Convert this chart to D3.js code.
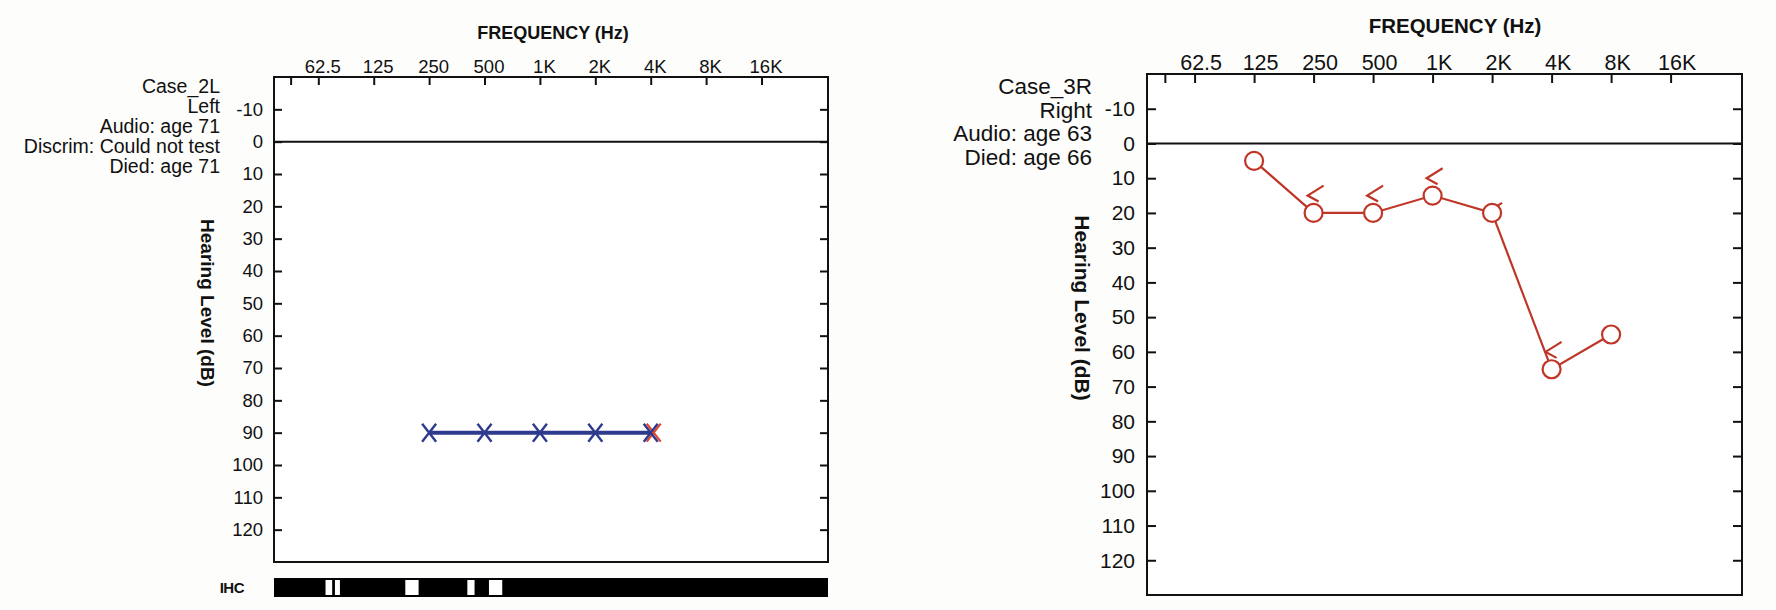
<!DOCTYPE html>
<html>
<head>
<meta charset="utf-8">
<script src="https://cdn.jsdelivr.net/npm/d3@7"></script>
<style>
body { margin: 0; background: #fdfdfb; }
text { font-family: "Liberation Sans", Arial, sans-serif; fill: #111; }
</style>
</head>
<body>
<script>
// axis values
var freqTicks = [44.2, 62.5, 125, 250, 500, 1000, 2000, 4000, 8000, 16000];
var freqLabels = ["", "62.5", "125", "250", "500", "1K", "2K", "4K", "8K", "16K"];
var freqDomain = [35.9, 36758];
var dbTicks = [-10, 0, 10, 20, 30, 40, 50, 60, 70, 80, 90, 100, 110, 120];
var dbDomain = [-20, 130];

// case 2L (left ear)
var leftInfo = ["Case_2L", "Left", "Audio: age 71", "Discrim: Could not test", "Died: age 71"];
var leftAirFreq = [250, 500, 1000, 2000, 4000];
var leftAirDb = [90, 90, 90, 90, 90];
var leftRedFreq = [4000];
var leftRedDb = [90];
// IHC bar: white gaps, in % of bar length
var ihcGapStart = [9.3, 11.0, 23.7, 34.9, 38.8];
var ihcGapEnd = [10.5, 11.9, 26.1, 36.2, 41.2];

// case 3R (right ear)
var rightInfo = ["Case_3R", "Right", "Audio: age 63", "Died: age 66"];
var rightAirFreq = [125, 250, 500, 1000, 2000, 4000, 8000];
var rightAirDb = [5, 20, 20, 15, 20, 65, 55];
var rightBoneFreq = [250, 500, 1000, 2000, 4000];
var rightBoneDb = [15, 15, 10, 20, 60];

var blue = "#2d3a8e";
var red = "#bf3627";

var svg = d3.select("body").append("svg")
    .attr("width", 1776)
    .attr("height", 610);

function zip(fs, dbs) {
  return fs.map(function(f, i) { return {f: f, db: dbs[i]}; });
}

function drawAudiogram(c) {
  var g = svg.append("g");
  var x = d3.scaleLog().domain(freqDomain).range([c.left, c.right]);
  var y = d3.scaleLinear().domain(dbDomain).range([c.top, c.bottom]);

  // plot box
  g.append("rect")
    .attr("x", c.left).attr("y", c.top)
    .attr("width", c.right - c.left).attr("height", c.bottom - c.top)
    .attr("fill", "#fff")
    .attr("stroke", "#111")
    .attr("stroke-width", 2);

  // 0 dB line
  g.append("line")
    .attr("x1", c.left).attr("x2", c.right)
    .attr("y1", y(0)).attr("y2", y(0))
    .attr("stroke", "#111").attr("stroke-width", 2);

  // frequency axis (top)
  var ax = g.append("g")
    .attr("transform", "translate(0," + c.top + ")")
    .call(d3.axisTop(x)
      .tickValues(freqTicks)
      .tickFormat(function(d) { return freqLabels[freqTicks.indexOf(d)]; })
      .tickSizeInner(-c.tick).tickSizeOuter(0).tickPadding(c.xPad));
  ax.select(".domain").remove();
  ax.selectAll("line").attr("stroke", "#111").attr("stroke-width", 2);
  ax.selectAll("text").attr("font-size", c.xFont).attr("dx", c.xDx);

  // dB axis (left + right ticks)
  var ayl = g.append("g")
    .attr("transform", "translate(" + c.left + ",0)")
    .call(d3.axisLeft(y).tickValues(dbTicks)
      .tickFormat(function(d) { return String(d); })
      .tickSizeInner(-c.tick).tickSizeOuter(0).tickPadding(c.yPad));
  ayl.select(".domain").remove();
  ayl.selectAll("line").attr("stroke", "#111").attr("stroke-width", 2);
  ayl.selectAll("text").attr("font-size", c.yFont);

  var ayr = g.append("g")
    .attr("transform", "translate(" + c.right + ",0)")
    .call(d3.axisRight(y).tickValues(dbTicks).tickFormat("")
      .tickSizeInner(-c.tick).tickSizeOuter(0));
  ayr.select(".domain").remove();
  ayr.selectAll("line").attr("stroke", "#111").attr("stroke-width", 2);

  // titles
  g.append("text")
    .attr("x", c.titleX).attr("y", c.titleY)
    .attr("text-anchor", "middle")
    .attr("font-weight", "bold")
    .attr("font-size", c.titleFont)
    .text("FREQUENCY (Hz)");

  g.append("text")
    .attr("transform", "translate(" + c.ylabX + "," + c.ylabY + ") rotate(90)")
    .attr("text-anchor", "middle")
    .attr("dy", "0.35em")
    .attr("font-weight", "bold")
    .attr("font-size", c.ylabFont)
    .text("Hearing Level (dB)");

  // case info
  g.selectAll(".info")
    .data(c.info)
    .enter()
    .append("text")
    .attr("class", "info")
    .attr("x", c.infoX)
    .attr("y", function(d, i) { return c.infoY + i * c.infoGap; })
    .attr("text-anchor", "end")
    .attr("font-size", c.infoFont)
    .text(function(d) { return d; });

  return {g: g, x: x, y: y};
}

// ---- left chart ----
var L = drawAudiogram({
  left: 274, right: 828, top: 77, bottom: 562,
  tick: 8, xPad: 4, xDx: 4, xFont: 18.5, yPad: 11, yFont: 18.5,
  titleX: 553, titleY: 39, titleFont: 18,
  ylabX: 208, ylabY: 303, ylabFont: 19,
  info: leftInfo, infoX: 220, infoY: 93, infoGap: 20, infoFont: 19.5
});

var lineL = d3.line()
  .x(function(d) { return L.x(d.f); })
  .y(function(d) { return L.y(d.db); });

var xMark = "M-7,-9L7,9M-7,9L7,-9";

L.g.selectAll(".redx")
  .data(zip(leftRedFreq, leftRedDb))
  .enter()
  .append("path")
  .attr("d", xMark)
  .attr("transform", function(d) { return "translate(" + (L.x(d.f) + 3) + "," + L.y(d.db) + ")"; })
  .attr("fill", "none")
  .attr("stroke", "#e0482a")
  .attr("stroke-width", 2.2);

L.g.append("path")
  .datum(zip(leftAirFreq, leftAirDb))
  .attr("d", lineL)
  .attr("fill", "none")
  .attr("stroke", blue)
  .attr("stroke-width", 4);

L.g.selectAll(".airx")
  .data(zip(leftAirFreq, leftAirDb))
  .enter()
  .append("path")
  .attr("class", "airx")
  .attr("d", xMark)
  .attr("transform", function(d) { return "translate(" + L.x(d.f) + "," + L.y(d.db) + ")"; })
  .attr("fill", "none")
  .attr("stroke", blue)
  .attr("stroke-width", 2.4);

// IHC bar
var ihc = d3.scaleLinear().domain([0, 100]).range([274, 828]);
svg.append("rect")
  .attr("x", ihc(0)).attr("y", 578)
  .attr("width", ihc(100) - ihc(0)).attr("height", 19)
  .attr("fill", "#000");
svg.selectAll(".gap")
  .data(ihcGapStart)
  .enter()
  .append("rect")
  .attr("class", "gap")
  .attr("x", function(d) { return ihc(d); })
  .attr("y", 580)
  .attr("width", function(d, i) { return ihc(ihcGapEnd[i]) - ihc(d); })
  .attr("height", 15)
  .attr("fill", "#fff");
svg.append("text")
  .attr("x", 244).attr("y", 593)
  .attr("text-anchor", "end")
  .attr("font-weight", "bold")
  .attr("font-size", 15)
  .attr("letter-spacing", -0.5)
  .text("IHC");

// ---- right chart ----
var R = drawAudiogram({
  left: 1147, right: 1742, top: 74, bottom: 595,
  tick: 9, xPad: 4, xDx: 6, xFont: 21.5, yPad: 12, yFont: 21,
  titleX: 1455, titleY: 33, titleFont: 20.5,
  ylabX: 1082, ylabY: 308, ylabFont: 21,
  info: rightInfo, infoX: 1092, infoY: 94, infoGap: 23.5, infoFont: 22.5
});

var lineR = d3.line()
  .x(function(d) { return R.x(d.f); })
  .y(function(d) { return R.y(d.db); });

R.g.append("path")
  .datum(zip(rightAirFreq, rightAirDb))
  .attr("d", lineR)
  .attr("fill", "none")
  .attr("stroke", red)
  .attr("stroke-width", 2.2);

// bone conduction "<"
R.g.selectAll(".bone")
  .data(zip(rightBoneFreq, rightBoneDb))
  .enter()
  .append("path")
  .attr("class", "bone")
  .attr("d", "M10,-10L-6,0L5,6")
  .attr("transform", function(d) { return "translate(" + R.x(d.f) + "," + R.y(d.db) + ")"; })
  .attr("fill", "none")
  .attr("stroke", red)
  .attr("stroke-width", 2.2);

R.g.selectAll(".air")
  .data(zip(rightAirFreq, rightAirDb))
  .enter()
  .append("circle")
  .attr("class", "air")
  .attr("cx", function(d) { return R.x(d.f); })
  .attr("cy", function(d) { return R.y(d.db); })
  .attr("r", 9)
  .attr("fill", "#fff")
  .attr("stroke", red)
  .attr("stroke-width", 2.2);
</script>
</body>
</html>
